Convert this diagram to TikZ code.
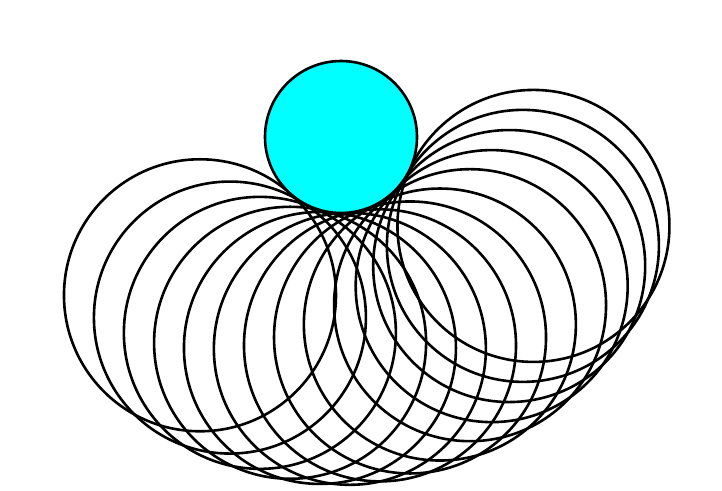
\documentclass[tikz,border=0pt]{standalone}
\usetikzlibrary{calc}
\definecolor{aqua}{RGB}{0,255,255}
\begin{document}
\begin{tikzpicture}[x=1pt,y=-1pt,
  ring/.style={circle,draw=black,line width=2.6pt,inner sep=0pt,minimum size=272pt},
  sunstyle/.style={circle,draw=black,fill=aqua,line width=2.6pt,inner sep=0pt,minimum size=152pt}]
\useasboundingbox (0,0) rectangle (722,490);
\coordinate (o) at (341,137);
\foreach \a [count=\i] in {228.3,238.4,247.5,256.1,264.3,272.4,280.6,289,297.8,307.5,315.3,322.5,329.1,335.2}
  \node[ring] (r\i) at ($(o)+(\a:212pt)$) {};
\node[sunstyle] (sun) at (o) {};
\end{tikzpicture}
\end{document}
